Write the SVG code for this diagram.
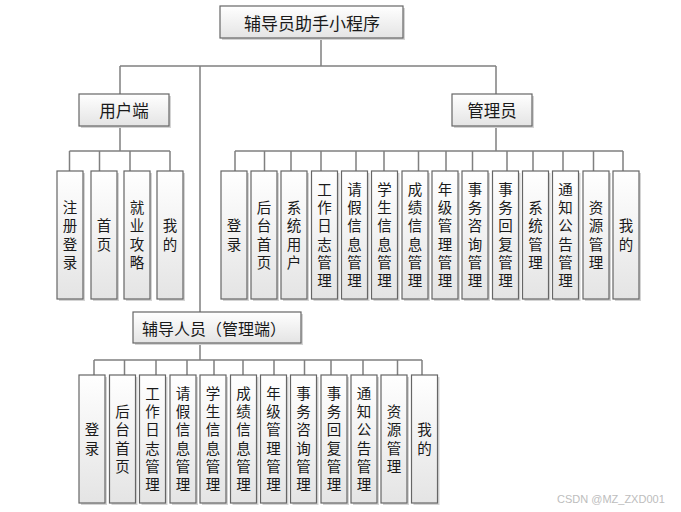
<svg xmlns="http://www.w3.org/2000/svg" width="681" height="512" viewBox="0 0 681 512">
<defs>
<linearGradient id="g" x1="0" y1="0" x2="0" y2="1">
<stop offset="0" stop-color="#ffffff"/>
<stop offset="1" stop-color="#e4e4e4"/>
</linearGradient>
</defs>
<style>
text{font-family:"Noto Sans CJK SC","Noto Sans",sans-serif;fill:#1a1a1a;text-anchor:middle;dominant-baseline:central}
.box{fill:url(#g);stroke:#666;stroke-width:1.2}
.sh{fill:#d4d4d4}
.v{font-size:14.5px;writing-mode:vertical-rl;letter-spacing:3.7px}
.h{font-size:16.5px}
.c path{stroke:#808080;stroke-width:1.5;fill:none}
.wm{font-family:"Liberation Sans",sans-serif;font-size:11px;fill:#bdbdbd;text-anchor:start}
</style>
<rect width="681" height="512" fill="#fff"/>
<g class="c" id="connectors">
<path d="M321 38V66M120 66H496M120 66V94M496 66V94M200 66V312"/>
<path d="M120 126V151M69.5 151H170M69.5 151V171M99.5 151V171M130 151V171M170 151V171"/>
<path d="M496 126V151M235 151H623M235 151V171M264.5 151V171M291 151V171M321 151V171M356 151V171M384 151V171M418.5 151V171M446 151V171M472.5 151V171M507 151V171M533 151V171M563 151V171M593.5 151V171M623 151V171"/>
<path d="M200 343V360M94 360H422M94 360V375M124.5 360V375M156 360V375M187 360V375M214 360V375M243 360V375M274 360V375M304.5 360V375M331 360V375M363 360V375M397.5 360V375M422 360V375"/>
</g>
<g id="root"><rect class="sh" x="222" y="8" width="183" height="32"/><rect class="box" x="220" y="6" width="183" height="32"/><text class="h" x="312" y="22" style="font-size:17px">辅导员助手小程序</text></g>
<g id="user"><rect class="sh" x="81" y="96" width="90" height="32"/><rect class="box" x="79" y="94" width="90" height="32"/><text class="h" x="124" y="110">用户端</text></g>
<g id="admin"><rect class="sh" x="454" y="96" width="80" height="32"/><rect class="box" x="452" y="94" width="80" height="32"/><text class="h" x="492" y="110">管理员</text></g>
<g id="counselor"><rect class="sh" x="135" y="314" width="168" height="31"/><rect class="box" x="133" y="312" width="168" height="31"/><text class="h" x="214" y="328" style="font-size:16px">辅导人员（管理端）</text></g>

<g id="u1"><rect class="sh" x="59" y="173" width="26" height="128"/><rect class="box" x="57" y="171" width="26" height="128"/><text class="v" x="70" y="236.8">注册登录</text></g>
<g id="u2"><rect class="sh" x="93" y="173" width="26" height="128"/><rect class="box" x="91" y="171" width="26" height="128"/><text class="v" x="104" y="236.8">首页</text></g>
<g id="u3"><rect class="sh" x="126" y="173" width="26" height="128"/><rect class="box" x="124" y="171" width="26" height="128"/><text class="v" x="137" y="236.8">就业攻略</text></g>
<g id="u4"><rect class="sh" x="159" y="173" width="26" height="128"/><rect class="box" x="157" y="171" width="26" height="128"/><text class="v" x="170" y="236.8">我的</text></g>

<g id="a1"><rect class="sh" x="223" y="173" width="26" height="128"/><rect class="box" x="221" y="171" width="26" height="128"/><text class="v" x="234" y="236.8">登录</text></g>
<g id="a2"><rect class="sh" x="253" y="173" width="26" height="128"/><rect class="box" x="251" y="171" width="26" height="128"/><text class="v" x="264" y="236.8">后台首页</text></g>
<g id="a3"><rect class="sh" x="283" y="173" width="26" height="128"/><rect class="box" x="281" y="171" width="26" height="128"/><text class="v" x="294" y="236.8">系统用户</text></g>
<g id="a4"><rect class="sh" x="313.5" y="173" width="26" height="128"/><rect class="box" x="311.5" y="171" width="26" height="128"/><text class="v" x="324.5" y="236.8">工作日志管理</text></g>
<g id="a5"><rect class="sh" x="343.5" y="173" width="26" height="128"/><rect class="box" x="341.5" y="171" width="26" height="128"/><text class="v" x="354.5" y="236.8">请假信息管理</text></g>
<g id="a6"><rect class="sh" x="373.5" y="173" width="26" height="128"/><rect class="box" x="371.5" y="171" width="26" height="128"/><text class="v" x="384.5" y="236.8">学生信息管理</text></g>
<g id="a7"><rect class="sh" x="404" y="173" width="26" height="128"/><rect class="box" x="402" y="171" width="26" height="128"/><text class="v" x="415" y="236.8">成绩信息管理</text></g>
<g id="a8"><rect class="sh" x="434" y="173" width="26" height="128"/><rect class="box" x="432" y="171" width="26" height="128"/><text class="v" x="445" y="236.8">年级管理管理</text></g>
<g id="a9"><rect class="sh" x="464" y="173" width="26" height="128"/><rect class="box" x="462" y="171" width="26" height="128"/><text class="v" x="475" y="236.8">事务咨询管理</text></g>
<g id="a10"><rect class="sh" x="494.5" y="173" width="26" height="128"/><rect class="box" x="492.5" y="171" width="26" height="128"/><text class="v" x="505.5" y="236.8">事务回复管理</text></g>
<g id="a11"><rect class="sh" x="524.5" y="173" width="26" height="128"/><rect class="box" x="522.5" y="171" width="26" height="128"/><text class="v" x="535.5" y="236.8">系统管理</text></g>
<g id="a12"><rect class="sh" x="554.5" y="173" width="26" height="128"/><rect class="box" x="552.5" y="171" width="26" height="128"/><text class="v" x="565.5" y="236.8">通知公告管理</text></g>
<g id="a13"><rect class="sh" x="585" y="173" width="26" height="128"/><rect class="box" x="583" y="171" width="26" height="128"/><text class="v" x="596" y="236.8">资源管理</text></g>
<g id="a14"><rect class="sh" x="615" y="173" width="26" height="128"/><rect class="box" x="613" y="171" width="26" height="128"/><text class="v" x="626" y="236.8">我的</text></g>

<g id="b1"><rect class="sh" x="81" y="377" width="26" height="128"/><rect class="box" x="79" y="375" width="26" height="128"/><text class="v" x="92" y="440.8">登录</text></g>
<g id="b2"><rect class="sh" x="111.5" y="377" width="26" height="128"/><rect class="box" x="109.5" y="375" width="26" height="128"/><text class="v" x="122.5" y="440.8">后台首页</text></g>
<g id="b3"><rect class="sh" x="141.5" y="377" width="26" height="128"/><rect class="box" x="139.5" y="375" width="26" height="128"/><text class="v" x="152.5" y="440.8">工作日志管理</text></g>
<g id="b4"><rect class="sh" x="172" y="377" width="26" height="128"/><rect class="box" x="170" y="375" width="26" height="128"/><text class="v" x="183" y="440.8">请假信息管理</text></g>
<g id="b5"><rect class="sh" x="202" y="377" width="26" height="128"/><rect class="box" x="200" y="375" width="26" height="128"/><text class="v" x="213" y="440.8">学生信息管理</text></g>
<g id="b6"><rect class="sh" x="232.5" y="377" width="26" height="128"/><rect class="box" x="230.5" y="375" width="26" height="128"/><text class="v" x="243.5" y="440.8">成绩信息管理</text></g>
<g id="b7"><rect class="sh" x="262.5" y="377" width="26" height="128"/><rect class="box" x="260.5" y="375" width="26" height="128"/><text class="v" x="273.5" y="440.8">年级管理管理</text></g>
<g id="b8"><rect class="sh" x="292.5" y="377" width="26" height="128"/><rect class="box" x="290.5" y="375" width="26" height="128"/><text class="v" x="303.5" y="440.8">事务咨询管理</text></g>
<g id="b9"><rect class="sh" x="323" y="377" width="26" height="128"/><rect class="box" x="321" y="375" width="26" height="128"/><text class="v" x="334" y="440.8">事务回复管理</text></g>
<g id="b10"><rect class="sh" x="353" y="377" width="26" height="128"/><rect class="box" x="351" y="375" width="26" height="128"/><text class="v" x="364" y="440.8">通知公告管理</text></g>
<g id="b11"><rect class="sh" x="383" y="377" width="26" height="128"/><rect class="box" x="381" y="375" width="26" height="128"/><text class="v" x="394" y="440.8">资源管理</text></g>
<g id="b12"><rect class="sh" x="413.5" y="377" width="26" height="128"/><rect class="box" x="411.5" y="375" width="26" height="128"/><text class="v" x="424.5" y="440.8">我的</text></g>

<text class="wm" x="557" y="499">CSDN @MZ_ZXD001</text>
</svg>
